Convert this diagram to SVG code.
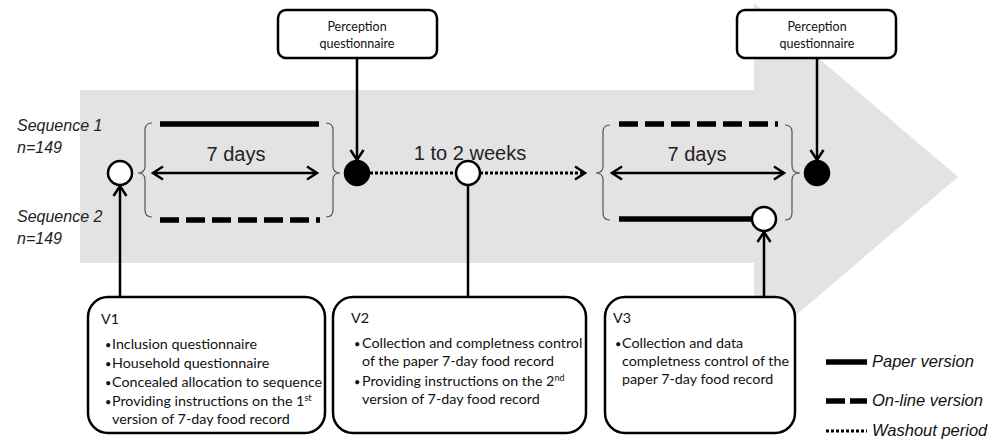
<svg xmlns="http://www.w3.org/2000/svg" width="1003" height="440" viewBox="0 0 1003 440">
<style>
.bg{fill:#e3e3e3;stroke:none}
.seq{font-family:"Liberation Sans",Arial,sans-serif;font-style:italic;font-size:16px;fill:#222}
.big{font-family:"Liberation Sans",Arial,sans-serif;font-size:20px;fill:#222;text-anchor:middle}
.box{fill:#fff;stroke:#000;stroke-width:2.5}
.pt{font-family:Lato,"Open Sans",sans-serif;font-size:12.5px;fill:#111;text-anchor:middle}
.vt{font-family:Lato,"Open Sans",sans-serif;font-size:14.3px;fill:#111}
.bu{font-family:Lato,"Open Sans",sans-serif;font-size:11px;fill:#111}
.sup{font-size:9px}
.brace{fill:none;stroke:#555;stroke-width:1.2}
.solid{stroke:#000;stroke-width:5.5;fill:none}
.dash{stroke:#000;stroke-width:5.5;fill:none;stroke-dasharray:19 7}
.dot{stroke:#000;stroke-width:3;fill:none;stroke-dasharray:3 2}
.conn{stroke:#000;stroke-width:2.5;fill:none}
.open{fill:#fff;stroke:#000;stroke-width:2.5}
.fill{fill:#000;stroke:#000;stroke-width:2.5}
.leg{font-family:"Liberation Sans",Arial,sans-serif;font-style:italic;font-size:16.5px;fill:#111}
</style>
<defs>
<marker id="chev" viewBox="0 0 12 14" refX="11" refY="7" markerWidth="12" markerHeight="14" markerUnits="userSpaceOnUse" orient="auto-start-reverse" overflow="visible">
<path d="M1,0.5 L11,7 L1,13.5" fill="none" stroke="#000" stroke-width="2.5"/>
</marker>
</defs>
<polygon class="bg" points="80,90 754,90 754,3 958,177 754,351 754,263 80,263"/>
<g id="labels">
<text class="seq" x="17" y="131">Sequence 1</text>
<text class="seq" x="17" y="153">n=149</text>
<text class="seq" x="17" y="222">Sequence 2</text>
<text class="seq" x="17" y="244">n=149</text>
<text class="big" x="236" y="161">7 days</text>
<text class="big" x="470" y="160">1 to 2 weeks</text>
<text class="big" x="697" y="161">7 days</text>
</g>
<g id="periods">
<path class="brace" d="M152,123 Q145,123 145,130 L145,166 Q145,173 138,173 Q145,173 145,180 L145,210 Q145,217 152,217"/>
<path class="brace" d="M326,123 Q333,123 333,130 L333,166 Q333,173 340,173 Q333,173 333,180 L333,210 Q333,217 326,217"/>
<path class="brace" d="M610,125 Q603,125 603,132 L603,166 Q603,173 596,173 Q603,173 603,180 L603,213 Q603,220 610,220"/>
<path class="brace" d="M785,125 Q792,125 792,132 L792,166 Q792,173 800,173 Q792,173 792,180 L792,213 Q792,220 785,220"/>
<line class="solid" x1="160" y1="124" x2="319" y2="124"/>
<line class="dash" x1="160" y1="220" x2="320" y2="220"/>
<line class="dash" x1="619" y1="124" x2="778" y2="124"/>
<line class="solid" x1="619" y1="219" x2="760" y2="219"/>
</g>
<g id="connectors">
<line class="conn" x1="153" y1="173" x2="317" y2="173" marker-start="url(#chev)" marker-end="url(#chev)"/>
<line class="conn" x1="612" y1="173" x2="784" y2="173" marker-start="url(#chev)" marker-end="url(#chev)"/>
<line class="dot" x1="370" y1="173" x2="585" y2="173"/>
<path d="M575,166.5 L585,173 L575,179.5" fill="none" stroke="#000" stroke-width="2.5"/>
<line class="conn" x1="357" y1="58" x2="357" y2="160" marker-end="url(#chev)"/>
<line class="conn" x1="817" y1="58" x2="817" y2="160" marker-end="url(#chev)"/>
<line class="conn" x1="120" y1="297" x2="120" y2="186" marker-end="url(#chev)"/>
<line class="conn" x1="468" y1="297" x2="468" y2="185"/>
<line class="conn" x1="764" y1="297" x2="764" y2="232" marker-end="url(#chev)"/>
</g>
<g id="visit-markers">
<circle class="open" cx="120" cy="173" r="12"/>
<circle class="fill" cx="357" cy="173" r="12"/>
<circle class="open" cx="468" cy="173" r="12"/>
<circle class="open" cx="764" cy="219" r="12"/>
<circle class="fill" cx="817" cy="173" r="12"/>
</g>
<g id="perception1">
<rect class="box" x="278" y="10" width="159" height="48" rx="8"/>
<text class="pt" x="357" y="31">Perception</text>
<text class="pt" x="357" y="48">questionnaire</text>
</g>
<g id="perception2">
<rect class="box" x="737" y="10" width="159" height="48" rx="8"/>
<text class="pt" x="817" y="31">Perception</text>
<text class="pt" x="817" y="48">questionnaire</text>
</g>
<g id="v1">
<rect class="box" x="88" y="297" width="237" height="136" rx="20"/>
<text class="vt" x="101" y="324">V1</text>
<text class="bu" x="105" y="349">•</text><text class="vt" x="112" y="349">Inclusion questionnaire</text>
<text class="bu" x="105" y="368">•</text><text class="vt" x="112" y="368">Household questionnaire</text>
<text class="bu" x="105" y="387">•</text><text class="vt" x="112" y="387">Concealed allocation to sequence</text>
<text class="bu" x="105" y="406">•</text><text class="vt" x="112" y="406">Providing instructions on the 1<tspan class="sup" dy="-5">st</tspan></text>
<text class="vt" x="112" y="424">version of 7-day food record</text>
</g>
<g id="v2">
<rect class="box" x="333" y="297" width="253" height="136" rx="20"/>
<text class="vt" x="351" y="323">V2</text>
<text class="bu" x="354" y="348">•</text><text class="vt" x="362" y="348">Collection and completness control</text>
<text class="vt" x="362" y="366">of the paper 7-day food record</text>
<text class="bu" x="354" y="386">•</text><text class="vt" x="362" y="386">Providing instructions on the 2<tspan class="sup" dy="-5">nd</tspan></text>
<text class="vt" x="362" y="404">version of 7-day food record</text>
</g>
<g id="v3">
<rect class="box" x="605" y="297" width="190" height="136" rx="20"/>
<text class="vt" x="613" y="323">V3</text>
<text class="bu" x="615" y="348">•</text><text class="vt" x="622" y="348">Collection and data</text>
<text class="vt" x="622" y="366">completness control of the</text>
<text class="vt" x="622" y="384">paper 7-day food record</text>
</g>
<g id="legend">
<line class="solid" x1="826" y1="362" x2="867" y2="362"/>
<text class="leg" x="872" y="367">Paper version</text>
<line stroke="#000" stroke-width="5.5" x1="826" y1="401" x2="867" y2="401" stroke-dasharray="19 5"/>
<text class="leg" x="872" y="406">On-line version</text>
<line class="dot" x1="826" y1="431" x2="867" y2="431"/>
<text class="leg" x="872" y="436">Washout period</text>
</g>
</svg>
